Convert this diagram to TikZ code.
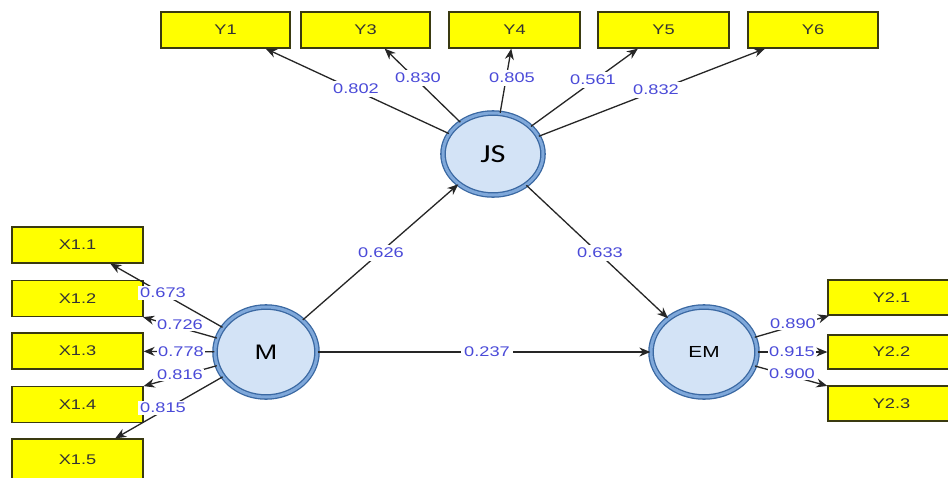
\documentclass[tikz,border=0pt]{standalone}
\usepackage{fontspec}
\setmainfont{Liberation Sans}
\newfontfamily\lblfont[FakeStretch=1.3]{Liberation Sans}
\newfontfamily\boxfont[FakeStretch=1.3]{Liberation Sans}
\newfontfamily\circfont[FakeStretch=1.25]{Carlito}
\usetikzlibrary{arrows.meta,shapes.geometric}
\definecolor{boxyellow}{HTML}{FFFF00}
\definecolor{boxedge}{HTML}{3A3A10}
\definecolor{lblblue}{HTML}{4A4AD8}
\definecolor{ringblue}{HTML}{3A68A2}
\definecolor{fillblue}{HTML}{D3E3F6}
\definecolor{ringmid}{HTML}{7FA8DA}
\begin{document}
\begin{tikzpicture}[x=1pt,y=-1pt,
  ind/.style={rectangle, draw=boxedge, line width=1.3pt, fill=boxyellow,
    minimum width=#1, minimum height=36pt, inner sep=0pt,
    font=\boxfont\fontsize{14}{14}\selectfont, text=black!80},
  lat/.style={ellipse, draw=ringblue, line width=1.3pt, double=ringmid,
    double distance=3pt, fill=fillblue, inner sep=0pt},
  lnk/.style={draw=black!85, line width=1.3pt, -{Stealth[length=11pt,width=9pt]}},
  lbl/.style={fill=white, inner sep=3.5pt, text=lblblue,
    font=\lblfont\fontsize{14}{14}\selectfont}]
\clip (0,0) rectangle (948,477);
\fill[white] (0,0) rectangle (948,477);
% indicator boxes
\node[ind=129pt] (Y1) at (225.5,30) {Y1};
\node[ind=129pt] (Y3) at (365.5,30) {Y3};
\node[ind=131pt] (Y4) at (514.5,30) {Y4};
\node[ind=131pt] (Y5) at (663.5,30) {Y5};
\node[ind=130pt] (Y6) at (813,30) {Y6};
\node[ind=131pt] (X11) at (77.5,245) {X1.1};
\node[ind=131pt] (X12) at (77.5,298.5) {X1.2};
\node[ind=131pt] (X13) at (77.5,351) {X1.3};
\node[ind=131pt] (X14) at (77.5,404.5) {X1.4};
\node[ind=131pt, minimum height=42pt] (X15) at (77.5,460) {X1.5};
\node[ind=127pt, minimum height=35pt] (Y21) at (891.5,297.5) {Y2.1};
\node[ind=127pt, minimum height=34pt] (Y22) at (891.5,352) {Y2.2};
\node[ind=127pt, minimum height=35pt] (Y23) at (891.5,403.5) {Y2.3};
% latent variables
\node[lat, minimum width=100pt, minimum height=82pt,
  font=\circfont\fontsize{26}{26}\selectfont] (JS) at (493,154) {JS};
\node[lat, minimum width=102pt, minimum height=90pt,
  font=\boxfont\fontsize{21}{21}\selectfont] (M) at (266,352) {M};
\node[lat, minimum width=106pt, minimum height=90pt,
  font=\boxfont\fontsize{16}{16}\selectfont] (EM) at (704,352) {EM};
% connectors
\draw[lnk] (JS) -- (Y1);
\draw[lnk] (JS) -- (Y3);
\draw[lnk] (JS) -- (Y4);
\draw[lnk] (JS) -- (Y5);
\draw[lnk] (JS) -- (Y6);
\draw[lnk] (M) -- (JS);
\draw[lnk] (JS) -- (EM);
\draw[lnk] (M) -- (EM);
\draw[lnk] (M) -- (X11);
\draw[lnk] (M) -- (X12);
\draw[lnk] (M) -- (X13);
\draw[lnk] (M) -- (X14);
\draw[lnk] (M) -- (X15);
\draw[lnk] (EM) -- (Y21);
\draw[lnk] (EM) -- (Y22);
\draw[lnk] (EM) -- (Y23);
% labels
\node[lbl] (a1) at (356,89) {0.802};
\node[lbl] (a2) at (418,78) {0.830};
\node[lbl] (a3) at (512,78) {0.805};
\node[lbl] (a4) at (593,80) {0.561};
\node[lbl] (a5) at (656,90) {0.832};
\node[lbl] (b1) at (381,253) {0.626};
\node[lbl] (b2) at (600,253) {0.633};
\node[lbl] (b3) at (487,352) {0.237};
\node[lbl, inner sep=2pt] (c1) at (163,293) {0.673};
\node[lbl, inner sep=1.5pt] (c2) at (180,325) {0.726};
\node[lbl, inner sep=1.5pt] (c3) at (181,352) {0.778};
\node[lbl, inner sep=1.5pt] (c4) at (180,375) {0.816};
\node[lbl, inner sep=2pt] (c5) at (163,408) {0.815};
\node[lbl, inner sep=1.5pt] (d1) at (793,324) {0.890};
\node[lbl, inner sep=1.5pt] (d2) at (792,352) {0.915};
\node[lbl, inner sep=1.5pt] (d3) at (792,374) {0.900};
\end{tikzpicture}
\end{document}
